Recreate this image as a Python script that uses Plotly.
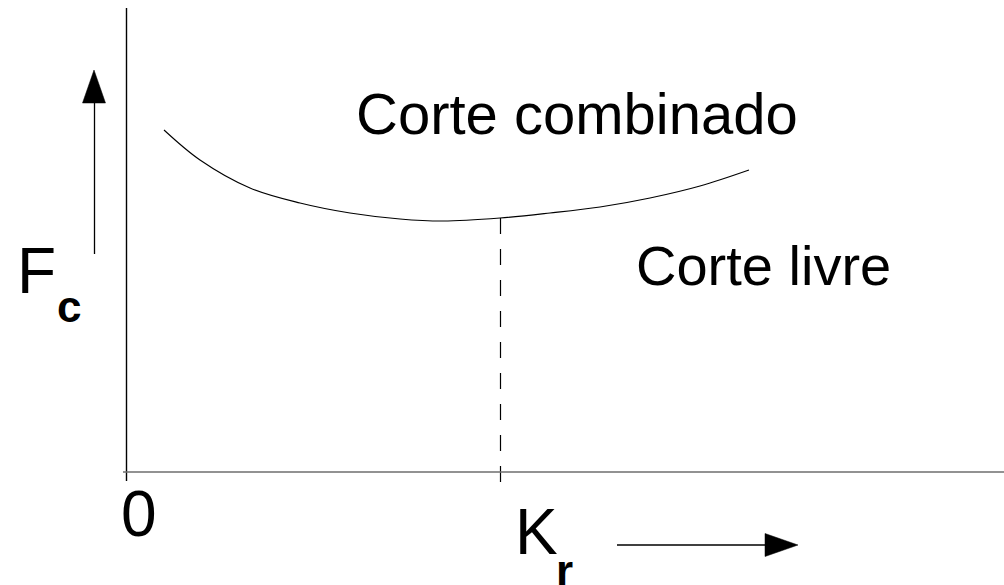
import plotly.graph_objects as go

# ---- data (Kr vs Fc, arbitrary units) ----
kr = [0.38, 0.74, 1.24, 1.74, 2.24, 2.74, 3.17, 3.74, 4.24, 4.74, 5.24, 5.74, 6.23]
fc = [3.42, 3.12, 2.84, 2.69, 2.59, 2.53, 2.51, 2.54, 2.59, 2.65, 2.74, 2.86, 3.02]
kr_opt = 3.74          # optimum Kr (dashed line)
fc_opt = 2.54

label_top = "Corte combinado"
label_bottom = "Corte livre"
origin_label = "0"

FONT = "Liberation Sans, Arial, sans-serif"

fig = go.Figure()

# curve
fig.add_trace(go.Scatter(x=kr, y=fc, mode="lines", line=dict(color="black", width=1.1, shape="spline", smoothing=1.0),
                         hoverinfo="skip", showlegend=False))
# dashed optimum line
fig.add_trace(go.Scatter(x=[kr_opt + 0.005, kr_opt + 0.005], y=[fc_opt, -0.10], mode="lines",
                         line=dict(color="black", width=1.2, dash="16px,15px"),
                         hoverinfo="skip", showlegend=False))

shapes = [
    # vertical axis
    dict(type="line", x0=0.005, x1=0.005, y0=4.64, y1=-0.09, line=dict(color="black", width=1.4)),
    # horizontal axis
    dict(type="line", x0=-0.03, x1=8.8, y0=0, y1=0, line=dict(color="#6e6e6e", width=1.6)),
    # left arrow (Fc direction)
    dict(type="line", x0=-0.315, x1=-0.315, y0=2.18, y1=3.72, line=dict(color="black", width=1.3)),
    dict(type="path", path="M -0.435 3.69 L -0.205 3.69 L -0.32 4.02 Z",
         fillcolor="black", line=dict(color="black", width=0.5)),
    # bottom arrow (Kr direction)
    dict(type="line", x0=4.91, x1=6.42, y0=-0.73, y1=-0.73, line=dict(color="black", width=1.3)),
    dict(type="path", path="M 6.39 -0.615 L 6.39 -0.845 L 6.72 -0.73 Z",
         fillcolor="black", line=dict(color="black", width=0.5)),
]

def ann(x, y, text, size, bold=False, xanchor="left"):
    return dict(x=x, y=y, xref="x", yref="y", text=("<b>%s</b>" % text) if bold else text,
                showarrow=False, xanchor=xanchor, yanchor="middle",
                font=dict(family=FONT, size=size, color="black"))

annotations = [
    ann(2.28, 3.59, label_top, 58),
    ann(5.08, 2.07, label_bottom, 56),
    ann(-1.11, 2.01, "F", 64),
    ann(-0.71, 1.66, "c", 44, bold=True),
    ann(-0.07, -0.415, origin_label, 64),
    ann(3.87, -0.60, "K", 64),
    ann(4.28, -0.98, "r", 44, bold=True),
]

fig.update_layout(
    width=1004, height=585,
    margin=dict(l=0, r=0, t=0, b=0),
    paper_bgcolor="white", plot_bgcolor="white",
    xaxis=dict(range=[-1.26, 8.78], visible=False, fixedrange=True),
    yaxis=dict(range=[-1.13, 4.72], visible=False, fixedrange=True),
    shapes=shapes, annotations=annotations, showlegend=False,
)

fig.write_html("out.html", config={"displayModeBar": False, "staticPlot": True},
               post_script="document.body.style.margin='0';document.body.style.overflow='hidden';")
